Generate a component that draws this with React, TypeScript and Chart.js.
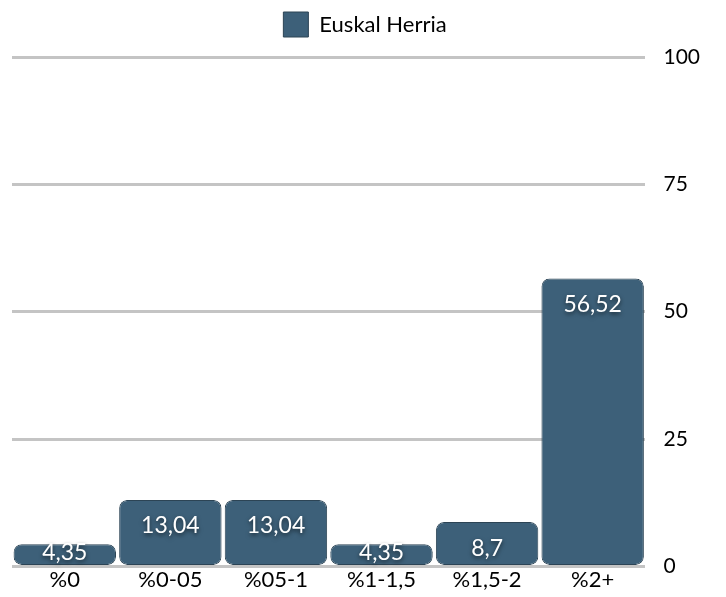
import React, { useEffect, useRef } from "react";
import { Chart, registerables } from "chart.js";

Chart.register(...registerables);

const categories = ["%0", "%0-05", "%05-1", "%1-1,5", "%1,5-2", "%2+"];
const values = [4.35, 13.04, 13.04, 4.35, 8.7, 56.52];
const valueLabels = ["4,35", "13,04", "13,04", "4,35", "8,7", "56,52"];
const seriesName = "Euskal Herria";
const yTicks = [0, 25, 50, 75, 100];

const FONT = "Lato, 'Open Sans', sans-serif";

const labelPlugin = {
  id: "valueLabels",
  afterDatasetsDraw(chart: any) {
    const ctx = chart.ctx;
    const meta = chart.getDatasetMeta(0);
    ctx.save();
    ctx.font = `23px ${FONT}`;
    ctx.textAlign = "center";
    ctx.textBaseline = "middle";
    meta.data.forEach((bar: any, i: number) => {
      const y = Math.min(bar.y + 26, bar.base - 12);
      ctx.shadowColor = "rgba(0,0,0,0.6)";
      ctx.shadowBlur = 4;
      ctx.shadowOffsetY = 2;
      ctx.fillStyle = "#ffffff";
      ctx.fillText(valueLabels[i], bar.x, y);
    });
    ctx.restore();
  },
};

const legendMargin = {
  id: "legendMargin",
  beforeInit(chart: any) {
    const legend = chart.legend;
    const origFit = legend.fit;
    legend.fit = function () {
      origFit.bind(legend)();
      this.height += 10;
    };
  },
};

export default function App() {
  const ref = useRef<HTMLCanvasElement>(null);
  useEffect(() => {
    if (!ref.current) return;
    const chart = new Chart(ref.current, {
      type: "bar",
      data: {
        labels: categories,
        datasets: [
          {
            label: seriesName,
            data: values,
            backgroundColor: "#3d6079",
            borderColor: "#2c4455",
            borderWidth: 1,
            borderRadius: 8,
            borderSkipped: false,
            barPercentage: 1,
            categoryPercentage: 0.97,
          },
        ],
      },
      options: {
        responsive: false,
        animation: false,
        layout: { padding: { left: 4, right: 0, top: 0, bottom: 4 } },
        plugins: {
          legend: {
            position: "top",
            labels: {
              font: { family: FONT, size: 22 },
              color: "#000",
              boxWidth: 25,
              boxHeight: 25,
              padding: 4,
            },
          },
          tooltip: { enabled: false },
        },
        scales: {
          x: {
            grid: { display: false, drawTicks: false },
            border: { display: false },
            ticks: { font: { family: FONT, size: 22 }, color: "#000", padding: 0 },
          },
          y: {
            position: "right",
            min: 0,
            max: 100,
            afterBuildTicks: (axis: any) => {
              axis.ticks = yTicks.map((v) => ({ value: v }));
            },
            grid: { color: "#c4c4c4", lineWidth: 3, drawTicks: false },
            border: { display: false },
            ticks: {
              font: { family: FONT, size: 21 },
              color: "#000",
              padding: 18,
              crossAlign: "near",
            },
          },
        },
      },
      plugins: [labelPlugin, legendMargin],
    });
    return () => chart.destroy();
  }, []);
  return <canvas ref={ref} width={710} height={589} style={{ display: "block" }} />;
}
